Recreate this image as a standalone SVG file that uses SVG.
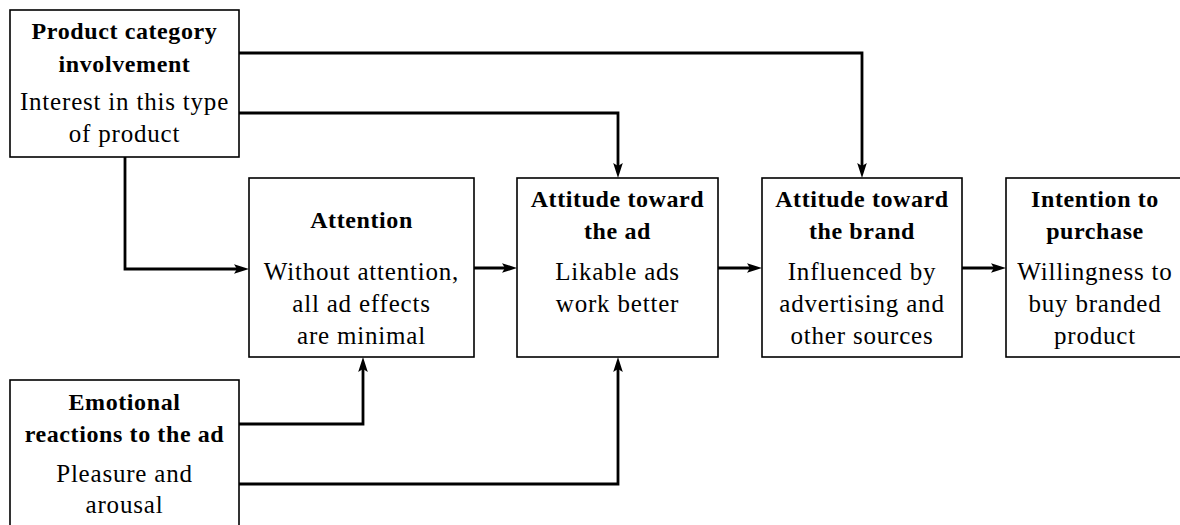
<svg xmlns="http://www.w3.org/2000/svg" width="1180" height="525" viewBox="0 0 1180 525">
<style>
.box{fill:#fff;stroke:#000;stroke-width:1.6}
.b{font-family:"Liberation Serif",serif;font-size:24px;font-weight:bold;text-anchor:middle;letter-spacing:0.6px;fill:#000}
.r{font-family:"Liberation Serif",serif;font-size:25px;text-anchor:middle;letter-spacing:0.8px;fill:#000}
.c{fill:none;stroke:#000;stroke-width:2.8;marker-end:url(#ah)}
</style>
<defs>
<marker id="ah" markerUnits="userSpaceOnUse" viewBox="-8 -6 18 12" markerWidth="18" markerHeight="12" refX="0" refY="0" orient="auto">
<path d="M9,0 L-6,-4.8 L-3,0 L-6,4.8 Z" fill="#000"/>
</marker>
</defs>
<rect width="1180" height="525" fill="#fff"/>
<g id="connectors">
<path class="c" d="M239,53 H862 V169"/>
<path class="c" d="M239,113 H618 V169"/>
<path class="c" d="M125,157 V269 H240"/>
<path class="c" d="M474,268 H508"/>
<path class="c" d="M718,268 H753"/>
<path class="c" d="M962,268 H997"/>
<path class="c" d="M239,424 H363 V366"/>
<path class="c" d="M239,484 H618 V366"/>
</g>
<g id="product-category">
<rect class="box" x="10" y="10" width="229" height="147"/>
<text class="b" x="124.5" y="39">Product category</text>
<text class="b" x="124.5" y="72">involvement</text>
<text class="r" x="124.5" y="110">Interest in this type</text>
<text class="r" x="124.5" y="142">of product</text>
</g>
<g id="attention">
<rect class="box" x="249" y="178" width="225" height="179"/>
<text class="b" x="361.5" y="228">Attention</text>
<text class="r" x="361.5" y="280">Without attention,</text>
<text class="r" x="361.5" y="312">all ad effects</text>
<text class="r" x="361.5" y="344">are minimal</text>
</g>
<g id="attitude-ad">
<rect class="box" x="517" y="178" width="201" height="179"/>
<text class="b" x="617.5" y="207">Attitude toward</text>
<text class="b" x="617.5" y="239">the ad</text>
<text class="r" x="617.5" y="280">Likable ads</text>
<text class="r" x="617.5" y="312">work better</text>
</g>
<g id="attitude-brand">
<rect class="box" x="762" y="178" width="200" height="179"/>
<text class="b" x="862" y="207">Attitude toward</text>
<text class="b" x="862" y="239">the brand</text>
<text class="r" x="862" y="280">Influenced by</text>
<text class="r" x="862" y="312">advertising and</text>
<text class="r" x="862" y="344">other sources</text>
</g>
<g id="intention">
<rect class="box" x="1006" y="178" width="180" height="179"/>
<text class="b" x="1095" y="207">Intention to</text>
<text class="b" x="1095" y="239">purchase</text>
<text class="r" x="1095" y="280">Willingness to</text>
<text class="r" x="1095" y="312">buy branded</text>
<text class="r" x="1095" y="344">product</text>
</g>
<g id="emotional">
<rect class="box" x="10" y="380" width="229" height="160"/>
<text class="b" x="124.5" y="410">Emotional</text>
<text class="b" x="124.5" y="442">reactions to the ad</text>
<text class="r" x="124.5" y="482">Pleasure and</text>
<text class="r" x="124.5" y="513">arousal</text>
</g>
</svg>
